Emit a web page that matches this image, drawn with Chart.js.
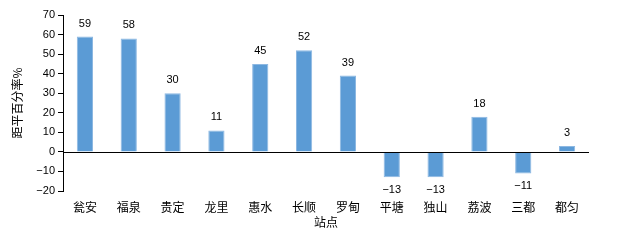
<!DOCTYPE html>
<html lang="zh">
<head>
  <meta charset="UTF-8">
  <title>距平百分率</title>
  <style>
    body { margin: 0; background: #fff; }
    #wrap { width: 618px; height: 242px; }
  </style>
</head>
<body>
  <div id="wrap"><canvas id="chart" width="618" height="242"></canvas></div>
  <script src="https://cdn.jsdelivr.net/npm/chart.js"></script>
  <script>
    // data
    const stations = ['瓮安', '福泉', '贵定', '龙里', '惠水', '长顺', '罗甸', '平塘', '独山', '荔波', '三都', '都匀'];
    const anomaly = [59, 58, 30, 11, 45, 52, 39, -13, -13, 18, -11, 3];
    const yTicks = [-20, -10, 0, 10, 20, 30, 40, 50, 60, 70];

    const fmt = v => (v < 0 ? '\u2212' + Math.abs(v) : String(v));
    const numFont = { family: 'Liberation Sans, Arial, sans-serif', size: 11 };
    const cjkFont = { family: 'Noto Sans CJK SC, sans-serif', size: 12 };

    // zero line + value labels
    const extras = {
      id: 'extras',
      afterDatasetsDraw(chart) {
        const ctx = chart.ctx;
        const y0 = chart.scales.y.getPixelForValue(0);
        ctx.save();
        ctx.strokeStyle = '#000';
        ctx.lineWidth = 1;
        ctx.beginPath();
        ctx.moveTo(chart.chartArea.left, Math.round(y0) + 0.5);
        ctx.lineTo(chart.chartArea.right, Math.round(y0) + 0.5);
        ctx.stroke();

        ctx.fillStyle = '#000';
        ctx.font = '11px ' + numFont.family;
        ctx.textAlign = 'center';
        ctx.textBaseline = 'middle';
        chart.getDatasetMeta(0).data.forEach((bar, i) => {
          const v = anomaly[i];
          const y = v >= 0 ? bar.y - 13 : bar.y + 13;
          ctx.fillText(fmt(v), bar.x, y);
        });
        ctx.restore();
      }
    };

    new Chart(document.getElementById('chart'), {
      type: 'bar',
      data: {
        labels: stations,
        datasets: [{
          data: anomaly,
          backgroundColor: '#5B9BD5',
          borderColor: '#8DB8E2',
          borderWidth: 1,
          categoryPercentage: 1,
          barPercentage: 0.37
        }]
      },
      options: {
        responsive: false,
        animation: false,
        layout: { padding: { left: 0, right: 29, top: 15, bottom: 12 } },
        plugins: { legend: { display: false }, tooltip: { enabled: false } },
        scales: {
          x: {
            grid: { display: false },
            border: { display: false },
            ticks: { color: '#000', font: cjkFont, padding: 1, maxRotation: 0, autoSkip: false },
            title: { display: true, text: '站点', color: '#000', font: cjkFont, padding: 0 },
            afterFit(s) { s.height = 39; }
          },
          y: {
            min: -20,
            max: 70,
            afterBuildTicks(s) { s.ticks = yTicks.map(v => ({ value: v })); },
            grid: { drawOnChartArea: false, drawTicks: true, tickLength: 5, color: '#000' },
            border: { display: true, color: '#000' },
            ticks: { color: '#000', font: numFont, padding: 3, callback: v => fmt(v) },
            title: { display: true, text: '距平百分率%', color: '#000', font: cjkFont, padding: { top: 10, bottom: 0 } },
            afterFit(s) { s.width = 63; }
          }
        }
      },
      plugins: [extras]
    });
  </script>
</body>
</html>
